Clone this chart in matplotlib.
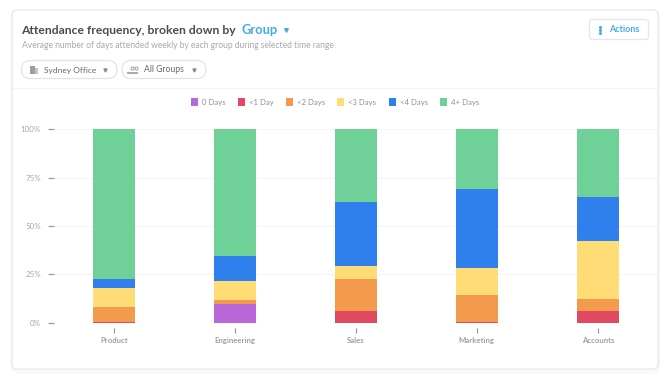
import matplotlib
matplotlib.use("Agg")
import matplotlib.pyplot as plt
from matplotlib.patches import FancyBboxPatch, Rectangle
import numpy as np

groups = ["Product", "Engineering", "Sales", "Marketing", "Accounts"]
series_names = ["0 Days", "<1 Day", "<2 Days", "<3 Days", "<4 Days", "4+ Days"]
days0 = [0, 9.7, 0, 0, 0]
days1 = [0.5, 0, 6.1, 0.5, 6.1]
days2 = [7.7, 1.9, 16.4, 13.7, 6.2]
days3 = [9.8, 10.0, 6.9, 14.0, 29.9]
days4 = [4.5, 12.8, 33.0, 40.8, 22.5]
days5 = [77.5, 65.6, 37.6, 31.0, 35.3]
colors = ["#BA68D9", "#E0495F", "#F49A4C", "#FFDC76", "#2F80ED", "#70D198"]
yticks = [0, 25, 50, 75, 100]
ylabels = ["0%", "25%", "50%", "75%", "100%"]

plt.rcParams['font.family'] = ['Lato', 'DejaVu Sans']
W, H = 670, 383
fig = plt.figure(figsize=(W/100, H/100), dpi=100, facecolor="white")

# page furniture, in pixel coordinates
bg = fig.add_axes([0, 0, 1, 1])
bg.set_xlim(0, W)
bg.set_ylim(H, 0)
bg.axis("off")

def rbox(x0, y0, x1, y1, r, ec="#E6E7EC", fc="white", lw=0.9, z=2):
    bg.add_patch(FancyBboxPatch((x0, y0), x1-x0, y1-y0, boxstyle="round,pad=0,rounding_size=%g" % r,
                                ec=ec, fc=fc, lw=lw, zorder=z))

# soft shadow + card
rbox(12, 12, 659, 372, 6, ec="#F8F8FA", fc="#F8F8FA", lw=2, z=1)
rbox(12, 10, 658, 369, 5, ec="#E9EAEE", lw=1.0)
bg.plot([13, 657], [87.5, 87.5], color="#F3F3F5", lw=0.8, zorder=3)

dark = "#4A4A4F"
grey = "#A9A9AE"
blue = "#45AAE8"
bg.text(21.5, 30, "Attendance frequency, broken down by", fontsize=8.7, color=dark, weight="bold",
        va="center", zorder=4)
bg.text(241.5, 30, "Group", fontsize=9.3, color=blue, weight="bold", va="center", zorder=4)
bg.plot([285.5], [30], marker="v", ms=2.6, color=blue, zorder=4)
bg.text(21.5, 46, "Average number of days attended weekly by each group during selected time range",
        fontsize=6.15, color=grey, va="center", zorder=4)

# filter pills
rbox(21.5, 60.5, 117, 78.5, 9, ec="#E3E3E8")
rbox(122, 60.5, 206, 78.5, 9, ec="#E3E3E8")
bg.text(43.5, 70, "Sydney Office", fontsize=6.0, color="#68686D", va="center", zorder=4)
bg.text(144, 70, "All Groups", fontsize=6.2, color="#68686D", va="center", zorder=4)
bg.plot([105, 194], [70, 70], ls="none", marker="v", ms=2.2, color="#8A8A8F", zorder=4)
# building icon
bg.add_patch(Rectangle((29.5, 66), 5, 8, fc="#9C9CA1", ec="none", zorder=4))
bg.add_patch(Rectangle((34.5, 68), 3.5, 6, fc="#C4C4C8", ec="none", zorder=4))
# people icon
bg.plot([132, 136], [67.5, 67.5], ls="none", marker="o", ms=2.2, mfc="white", mec="#9C9CA1", mew=0.7, zorder=4)
bg.plot([130, 134.5], [72.5, 72.5], ls="none", marker="_", ms=5, mew=1.2, color="#9C9CA1", zorder=4)

# actions button
rbox(589.5, 19.5, 648.5, 39.5, 3, ec="#E6E7EC")
bg.plot([599.5]*3, [26.5, 29.5, 32.5], ls="none", marker="o", ms=1.2, color=blue, zorder=4)
bg.text(609, 29.5, "Actions", fontsize=6.5, color=blue, weight="bold", va="center", zorder=4)

# chart
ax = fig.add_axes([53.6/W, 1-322.5/H, 604.6/W, 193.2/H])
ax.patch.set_alpha(0)
x = np.arange(len(groups))
bottom = np.zeros(len(groups))
for name, vals, c in zip(series_names, [days0, days1, days2, days3, days4, days5], colors):
    ax.bar(x, vals, 0.344, bottom=bottom, color=c, label=name, zorder=3)
    bottom += np.array(vals)

ax.set_xlim(-0.5, 4.5)
ax.set_ylim(0, 100)
for s in ax.spines.values():
    s.set_visible(False)
ax.set_yticks(yticks, ylabels)
ax.set_xticks(x, groups)
ax.grid(axis="y", color="#F5F5F7", lw=0.8, zorder=0)
ax.tick_params(axis="y", length=4.1, width=0.9, color="#9A9A9F", pad=5, labelsize=5.7, labelcolor="#A5A5AA")
ax.tick_params(axis="x", length=0, pad=10.7, labelsize=5.6, labelcolor="#A0A0A5")
for t in ax.get_xticklabels():
    t.set_fontweight("bold")
# x tick marks sit a few pixels under the baseline
ax.vlines(x, -5/193.2, -10.2/193.2, transform=ax.get_xaxis_transform(), color="#9A9A9F", lw=0.9, clip_on=False)

ax.legend(loc="center", bbox_to_anchor=(335/W, 1-102/H), bbox_transform=fig.transFigure, ncol=6,
          frameon=False, fontsize=5.6, labelcolor="#8E8E93", handlelength=0.9, handleheight=1.25,
          handletextpad=0.5, columnspacing=1.6, borderpad=0)

fig.savefig("out.png", dpi=100)
